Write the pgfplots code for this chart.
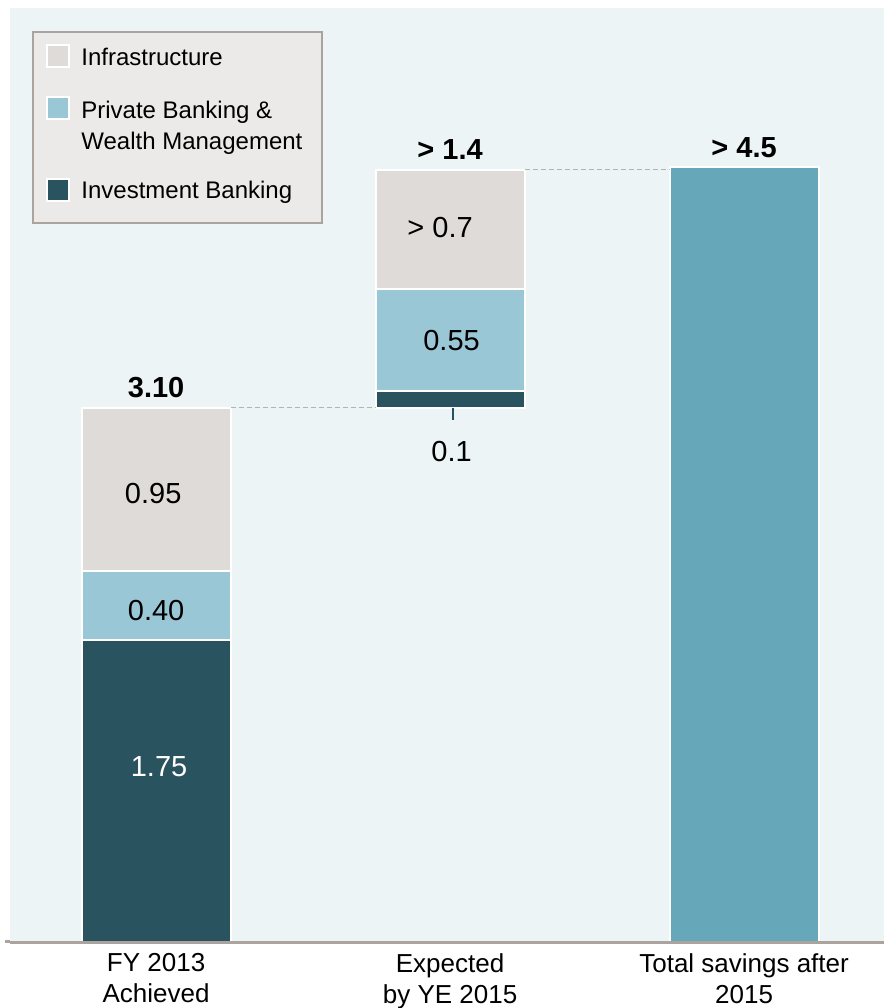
\documentclass[border=0pt]{standalone}
\usepackage{pgfplots}
\pgfplotsset{compat=1.18}
\usepackage{fontspec}
\setmainfont{Liberation Sans}

\definecolor{bgc}{HTML}{ECF4F6}
\definecolor{infra}{HTML}{DEDBD8}
\definecolor{pbwm}{HTML}{9AC7D6}
\definecolor{ib}{HTML}{2A5360}
\definecolor{tot}{HTML}{66A7BA}
\definecolor{axc}{HTML}{ABA49E}
\definecolor{legf}{HTML}{ECEAE8}
\definecolor{dashc}{HTML}{B4B4B4}

\begin{document}
\begin{tikzpicture}
\begin{axis}[
  name=ax,
  scale only axis,
  width=437pt, height=467pt,
  xmin=-0.497, xmax=2.476,
  ymin=0, ymax=5.42,
  ybar stacked,
  bar width=0.507,
  axis background/.style={fill=bgc},
  axis on top,
  axis x line=bottom,
  axis y line=none,
  x axis line style={-, draw=axc, line width=1.5pt},
  ytick=\empty,
  xtick={0,1,2},
  xtick style={draw=none},
  xticklabels={{FY 2013\\Achieved},{Expected\\by YE 2015},{Total savings after\\2015}},
  xticklabel style={align=center, font=\fontsize{13}{15.5}\selectfont},
]
% invisible base for the floating bar
\addplot[draw=none, fill=none] coordinates {(0,0) (1,3.10) (2,0)};
% Investment Banking
\addplot[fill=ib, draw=white, line width=1pt] coordinates {(0,1.75) (1,0.10) (2,0)};
% Private Banking & Wealth Management
\addplot[fill=pbwm, draw=white, line width=1pt] coordinates {(0,0.40) (1,0.59) (2,0)};
% Infrastructure
\addplot[fill=infra, draw=white, line width=1pt] coordinates {(0,0.95) (1,0.69) (2,0)};
% Total
\addplot[fill=tot, draw=white, line width=1pt] coordinates {(0,0) (1,0) (2,4.5)};

% anchor points for the annotations, drawn after the bars
\coordinate (c1a) at (axis cs:0.2535,3.10);
\coordinate (c1b) at (axis cs:0.7465,3.10);
\coordinate (c2a) at (axis cs:1.2535,4.48);
\coordinate (c2b) at (axis cs:1.7465,4.48);
\coordinate (tka) at (axis cs:1.01,3.10);
\coordinate (tkb) at (axis cs:1.01,3.03);
\coordinate (t0) at (axis cs:0,3.215);
\coordinate (t1) at (axis cs:1,4.597);
\coordinate (t2) at (axis cs:2,4.608);
\coordinate (v1) at (axis cs:-0.01,2.60);
\coordinate (v2) at (axis cs:0,1.921);
\coordinate (v3) at (axis cs:0.01,1.016);
\coordinate (v4) at (axis cs:0.966,4.144);
\coordinate (v5) at (axis cs:1.005,3.488);
\coordinate (v6) at (axis cs:1.005,2.844);
\end{axis}

% connectors
\draw[dashc, line width=0.5pt, dash pattern=on 2.5pt off 1.5pt] (c1a) -- (c1b);
\draw[dashc, line width=0.5pt, dash pattern=on 2.5pt off 1.5pt] (c2a) -- (c2b);
\draw[ib, line width=1.2pt] (tka) -- (tkb);

% labels
\begin{scope}[every node/.style={font=\fontsize{14.5}{17}\selectfont}]
\node[font=\bfseries\fontsize{14.5}{17}\selectfont] at (t0) {3.10};
\node[font=\bfseries\fontsize{14.5}{17}\selectfont] at (t1) {> 1.4};
\node[font=\bfseries\fontsize{14.5}{17}\selectfont] at (t2) {> 4.5};
\node at (v1) {0.95};
\node at (v2) {0.40};
\node[text=white] at (v3) {1.75};
\node at (v4) {> 0.7};
\node at (v5) {0.55};
\node at (v6) {0.1};
\end{scope}

% axis line reaches a little left of the plot area
\draw[axc, line width=1.5pt] ([xshift=-2.5pt]ax.south west) -- (ax.south west);

% legend
\begin{scope}[shift={(ax.north west)}]
\draw[axc, line width=1pt, fill=legf] (11.5pt,-12pt) rectangle (156pt,-107.5pt);
\draw[white, line width=1pt, fill=infra] (18.5pt,-18.75pt) rectangle (29.5pt,-29.75pt);
\draw[white, line width=1pt, fill=pbwm] (18.5pt,-44.75pt) rectangle (29.5pt,-55.75pt);
\draw[white, line width=1pt, fill=ib] (18.5pt,-85.5pt) rectangle (29.5pt,-96.5pt);
\begin{scope}[every node/.style={anchor=base west, inner sep=0pt, font=\fontsize{12}{15.5}\selectfont}]
\node at (35.5pt,-28.8pt) {Infrastructure};
\node at (35.5pt,-55.3pt) {Private Banking \&};
\node at (35.5pt,-70.8pt) {Wealth Management};
\node at (35.5pt,-95.3pt) {Investment Banking};
\end{scope}
\end{scope}

\pgfresetboundingbox
\path ([xshift=-5pt,yshift=-33pt]ax.south west) rectangle ([yshift=4pt]ax.north east);
\end{tikzpicture}
\end{document}
